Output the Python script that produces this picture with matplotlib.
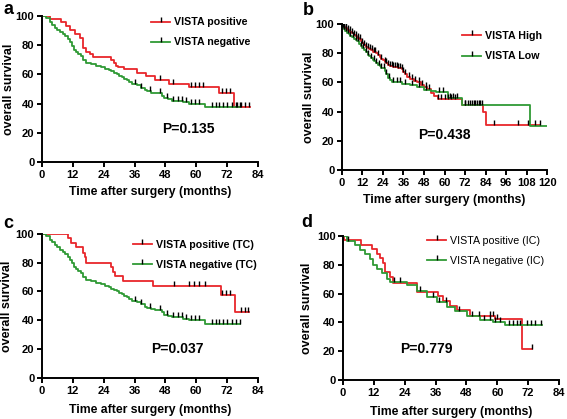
import matplotlib.pyplot as plt
from matplotlib.lines import Line2D
import numpy as np

plt.rcParams['font.family'] = ['Liberation Sans', 'DejaVu Sans']
plt.rcParams['font.weight'] = 'bold'

RED = '#e8262b'
GREEN = '#2f9a35'

# ---- panel a ----
a_pos_t = [0, 3, 7.5, 9.5, 11, 13, 14.6, 16, 17, 18.5, 20, 27, 28, 28.6, 29.5, 32, 37, 40.5, 44, 49.4, 57, 69, 74.5, 80.8]
a_pos_s = [100, 98, 96, 93, 90.5, 87.5, 85, 78, 75.5, 74, 72, 70, 68, 66, 65, 63.5, 61, 59, 56, 53.5, 51.5, 47, 37.5, 37.5]
a_pos_c = [45.8, 51, 58, 59.5, 61, 62.5, 70, 71.5, 73, 76, 77.5, 79, 80.5]

a_neg_t = [0, 1.5, 3, 4, 5, 6, 7, 8, 9, 10, 11, 11.8, 12.5, 13.3, 14, 15, 16, 17, 19, 21, 23, 24.5, 26, 27, 28, 29, 30, 31,
           32, 33, 34, 35, 37, 38.5, 40, 41, 42.5, 44, 46.5, 47.5, 49, 50.5, 55, 57, 63.5, 77]
a_neg_s = [100, 98.5, 96, 94, 92, 90.5, 89, 87.5, 86, 84, 82, 79.5, 77, 75.5, 74, 72.5, 70, 68, 67, 66, 65, 64, 63, 62, 61, 60, 59, 58,
           57, 56, 55, 53.5, 52.5, 51, 49.5, 48.5, 47.5, 47, 45.5, 44, 43, 42, 41, 40, 37.5, 37.5]
a_neg_c = [36, 38.5, 42, 46, 48.5, 51, 53, 54.5, 56, 58, 59.5, 61, 66, 67.5, 69, 70.5, 72, 74, 75.5, 77]

# ---- panel b ----
b_high_t = [0, 0.5, 1, 2, 3, 4, 5, 6, 7, 8, 9, 10, 11, 12, 13, 14, 15, 16, 17, 18, 20, 21, 22, 23, 24, 25, 26, 27, 28, 30,
            33, 35, 36, 37, 38, 40, 42, 44, 46, 48, 50, 52, 54, 56, 70, 82.5, 84, 116]
b_high_s = [100, 99, 98, 97, 96, 95, 94.5, 93.5, 92.5, 91.5, 90.5, 89.5, 88.5, 87, 85.5, 84.5, 83.5, 82.5, 82, 81, 80, 79, 77.5,
            76, 75, 74, 73, 72, 71, 70.5, 70, 69, 67, 65.5, 64, 62.5, 61, 60, 58.5, 57, 55.5, 53, 51, 48.5, 44.5, 40, 31, 31]
b_high_c = [0.5, 1.5, 2.5, 3.5, 4.5, 6, 7, 8, 9.5, 10.5, 12, 13, 14, 15.5, 16.5, 17.5, 18.5, 19.5, 21, 23, 25, 26, 27, 28, 29,
            30, 31, 32, 33, 34, 35, 36, 37, 39, 41, 43, 45, 47, 49, 51, 56, 58, 60, 62, 64, 66, 72, 74, 76, 78, 80, 82, 89,
            103, 109, 113, 116]

b_low_t = [0, 0.5, 1, 2, 3, 4, 5, 6, 7, 8, 9, 10, 11, 12, 13, 14, 15, 16, 17, 18, 19, 20, 21, 22, 23, 24, 25, 26, 27, 28, 29,
           31, 35, 40, 44, 48, 52, 55, 62, 70, 110, 122]
b_low_s = [100, 98, 96.5, 95, 94, 93, 92, 91, 90, 89, 88, 86.5, 85, 83.5, 82, 80.5, 79, 78, 77, 75.5, 74.5, 73, 72, 71, 70,
           69.5, 68, 66, 63, 61.5, 60.5, 60, 59, 58.5, 57, 55, 54, 53.5, 49.3, 44.3, 30, 30]
b_low_c = [0.5, 1, 1.5, 2.5, 3.5, 5, 6.5, 8, 9.5, 11, 12.5, 14, 15.5, 17, 18.5, 20, 21.5, 23, 24.5, 26, 27.5, 30, 32, 34, 37,
           41, 45, 49, 57, 59, 63, 65, 67, 72, 75, 77, 79, 81, 121]

# ---- panel c ----
c_pos_t = [0, 10.1, 11.1, 13.1, 15.9, 16.6, 17.2, 26.7, 27.6, 28.5, 31.5, 43.2, 69.5, 75, 80.5]
c_pos_s = [100, 97, 93.5, 90.5, 87, 84, 80, 77, 73.5, 70.5, 67, 63.5, 57.5, 45.5, 45.5]
c_pos_c = [51.3, 57.2, 59, 61, 63.3, 70.2, 71.5, 73, 77.5, 78.8, 80]

c_neg_t = a_neg_t
c_neg_s = a_neg_s
c_neg_c = a_neg_c

# ---- panel d ----
d_pos_t = [0, 0.5, 6.9, 11.1, 13.1, 14.4, 15.7, 16.3, 18.3, 19.6, 28.6, 37.1, 38.8, 41.5, 44.2, 49.4, 59, 69.5, 73.4]
d_pos_s = [100, 97.2, 94, 90.7, 87.5, 84.5, 81, 75, 71.8, 67.6, 61.3, 58, 55, 51.5, 48.5, 44.5, 42, 21.3, 21.3]
d_pos_c = [57, 58.5, 60, 73.4]

d_neg_t = [0, 1.4, 4.7, 6.6, 8.6, 10.5, 11.8, 13.1, 15, 17, 18.3, 24.8, 28.6, 32.5, 36.4, 40.3, 43.6, 48.1, 53.3, 58.5, 63, 77.3]
d_neg_s = [100, 96.8, 93.7, 90.3, 87.5, 83.8, 79.9, 76.9, 74, 70, 68.3, 66, 62, 57.9, 54.4, 51, 48, 44.4, 41.7, 40.5, 38.2, 38.2]
d_neg_c = [2, 20, 22, 30, 35, 37.5, 40, 45, 50, 53, 55, 57, 59, 61, 64.5, 66, 67.5, 69, 71.5, 73, 74.5, 77]


def step_at(t, s, x):
    i = np.searchsorted(np.array(t), x, side='right') - 1
    return np.array(s)[np.clip(i, 0, len(s) - 1)]


def km_panel(ax, curves, xmax, xstep, ptext, pxy, leg_anchor, ylab_x, xlab_y, leg_bold=True):
    handles = []
    for t, s, c, col, lab in curves:
        ax.plot(t, s, drawstyle='steps-post', color=col, lw=1.3, zorder=2)
        # censored cases: small upward ticks
        ax.plot(c, step_at(t, s, c), ls='none', marker=2, ms=3.5, mew=1.0, color='black', zorder=3)
        handles.append(Line2D([0], [0], color=col, lw=1.3, marker=2, ms=3.5, mew=1.0, mec='black', label=lab))
    ax.set_xlim(0, xmax)
    ax.set_ylim(0, 100)
    ax.set_xticks(np.arange(0, xmax + 1, xstep))
    ax.set_yticks(np.arange(0, 101, 20))
    for sp in ['top', 'right']:
        ax.spines[sp].set_visible(False)
    for sp in ['left', 'bottom']:
        ax.spines[sp].set_linewidth(1.4)
    ax.tick_params(width=1.4, length=3.5, labelsize=8, pad=2)
    ax.set_xlabel('Time after surgery (months)', fontsize=8.8, fontweight='bold')
    ax.set_ylabel('overall survival', fontsize=9, fontweight='bold')
    ax.xaxis.set_label_coords(0.5, xlab_y)
    ax.yaxis.set_label_coords(ylab_x, 0.5)
    ax.text(pxy[0], pxy[1], ptext, fontsize=10, fontweight='bold', ha='center', va='center')
    leg = ax.legend(handles=handles, loc='upper left', bbox_to_anchor=leg_anchor, frameon=False,
                    fontsize=7.7, handlelength=1.8, handletextpad=0.35, labelspacing=0.95, numpoints=1,
                    borderaxespad=0)
    for tx in leg.get_texts():
        tx.set_fontweight('bold' if leg_bold else 'normal')


fig = plt.figure(figsize=(5.67, 4.19), dpi=100)
ax_a = fig.add_axes([0.074, 0.613, 0.381, 0.349])
ax_b = fig.add_axes([0.603, 0.594, 0.362, 0.349])
ax_c = fig.add_axes([0.074, 0.098, 0.381, 0.344])
ax_d = fig.add_axes([0.605, 0.093, 0.381, 0.344])

km_panel(ax_a, [(a_pos_t, a_pos_s, a_pos_c, RED, 'VISTA positive'),
                (a_neg_t, a_neg_s, a_neg_c, GREEN, 'VISTA negative')],
         84, 12, 'P=0.135', (56.8, 23), (0.485, 1.02), -0.125, -0.165)
km_panel(ax_b, [(b_high_t, b_high_s, b_high_c, RED, 'VISTA High'),
                (b_low_t, b_low_s, b_low_c, GREEN, 'VISTA Low')],
         120, 12, 'P=0.438', (60, 24), (0.565, 0.98), -0.132, -0.164)
km_panel(ax_c, [(c_pos_t, c_pos_s, c_pos_c, RED, 'VISTA positive (TC)'),
                (c_neg_t, c_neg_s, c_neg_c, GREEN, 'VISTA negative (TC)')],
         84, 12, 'P=0.037', (52.7, 20), (0.40, 0.99), -0.134, -0.18)
km_panel(ax_d, [(d_pos_t, d_pos_s, d_pos_c, RED, 'VISTA positive (IC)'),
                (d_neg_t, d_neg_s, d_neg_c, GREEN, 'VISTA negative (IC)')],
         84, 12, 'P=0.779', (32.5, 21.5), (0.37, 1.03), -0.139, -0.18, leg_bold=False)

# panel letters
fig.text(3 / 567, 1 - 14 / 419, 'a', fontsize=13, fontweight='bold', va='baseline')
fig.text(303 / 567, 1 - 15 / 419, 'b', fontsize=13, fontweight='bold', va='baseline')
fig.text(3 / 567, 1 - 228 / 419, 'c', fontsize=13, fontweight='bold', va='baseline')
fig.text(301 / 567, 1 - 227 / 419, 'd', fontsize=13, fontweight='bold', va='baseline')

fig.savefig('out.png', dpi=100)
